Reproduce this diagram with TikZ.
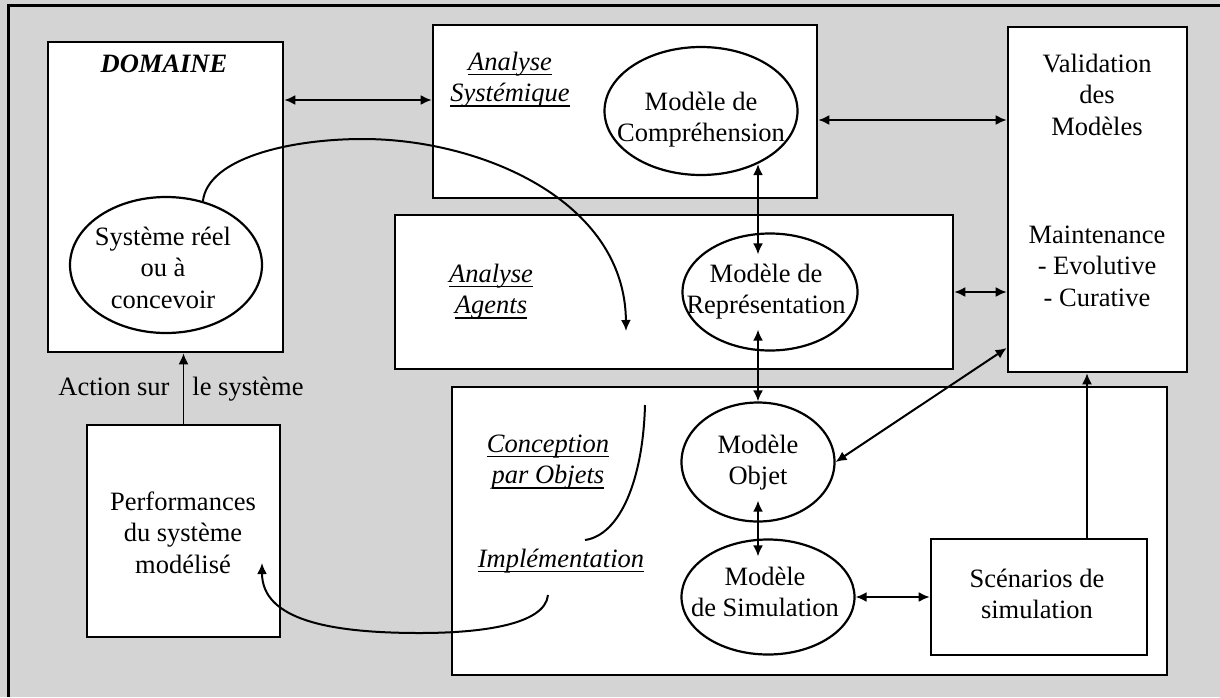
\documentclass[tikz,border=0pt]{standalone}
\usepackage{fontspec}
\setmainfont{Liberation Serif}
\usetikzlibrary{arrows.meta,calc,shapes.geometric}
\newcommand\uln[1]{\leavevmode\setbox0=\hbox{#1}\rlap{\rule[-5pt]{\wd0}{1.5pt}}\box0}
\begin{document}
\begin{tikzpicture}[x=1pt,y=-1pt,
  box/.style={draw,line width=2.6pt,fill=white,inner sep=0pt},
  ell/.style={draw,ellipse,line width=2.2pt,fill=white,inner sep=0pt},
  txt/.style={font=\fontsize{26.5}{31.5}\selectfont,align=center,inner sep=0pt,anchor=north},
  ital/.style={txt,font=\fontsize{26.5}{31.5}\selectfont\itshape},
  arr/.style={line width=2pt},
  dbl/.style={arr,{Latex[length=11pt,width=10pt]}-{Latex[length=11pt,width=10pt]}},
  one/.style={arr,-{Latex[length=11pt,width=10pt]}},
  thin/.style={line width=1.6pt,-{Latex[length=11pt,width=10pt]}}]
\useasboundingbox (0,0) rectangle (1220,697);
\fill[black!17] (0,0) rectangle (1220,697);
\draw[line width=3pt] (8,697) -- (8,5) -- (1220,5);

% boxes
\node[box,minimum width=235pt,minimum height=310pt] (dom) at (165.5,197) {};
\node[box,minimum width=384pt,minimum height=173pt] (sys) at (625,111.5) {};
\node[box,minimum width=558pt,minimum height=154pt] (agt) at (674,292) {};
\node[box,minimum width=179pt,minimum height=345pt] (val) at (1097.5,199.5) {};
\node[box,minimum width=715pt,minimum height=288pt] (con) at (809.5,531) {};
\node[box,minimum width=193pt,minimum height=212pt] (perf) at (183.5,531) {};
\node[box,minimum width=216pt,minimum height=116pt] (scen) at (1039,597) {};

% ellipses
\node[ell,minimum width=192pt,minimum height=136pt] (sr) at (166,265) {};
\node[ell,minimum width=193pt,minimum height=128pt] (comp) at (701,111) {};
\node[ell,minimum width=175pt,minimum height=117pt] (rep) at (770,292) {};
\node[ell,minimum width=153pt,minimum height=119pt] (obj) at (758,462) {};
\node[ell,minimum width=173pt,minimum height=115pt] (sim) at (768,597) {};

% texts
\node[txt,font=\fontsize{26.5}{31.5}\selectfont\bfseries\itshape] (domT) at (164,50) {\strut DOMAINE};
\node[ital] (sysT) at (510,48) {\strut\uln{Analyse}\\\strut\uln{Systémique}};
\node[txt] (compT) at (701,88) {\strut Modèle de\\\strut Compréhension};
\node[ital] (agtT) at (491,260) {\strut\uln{Analyse}\\\strut\uln{Agents}};
\node[txt] (repT) at (766,260) {\strut Modèle de\\\strut Représentation};
\node[txt] (valT) at (1097,50) {\strut Validation\\\strut des\\\strut Modèles};
\node[txt] (mntT) at (1097,221) {\strut Maintenance\\\strut - Evolutive\\\strut - Curative};
\node[ital] (conT) at (548,430) {\strut\uln{Conception}\\\strut\uln{par Objets}};
\node[ital] (impT) at (561,545) {\strut\uln{Implémentation}};
\node[txt] (objT) at (758,431) {\strut Modèle\\\strut Objet};
\node[txt] (simT) at (765,563) {\strut Modèle\\\strut de Simulation};
\node[txt] (scenT) at (1037,565) {\strut Scénarios de\\\strut simulation};
\node[txt] (perfT) at (183,488) {\strut Performances\\\strut du système\\\strut modélisé};
\node[txt] (srT) at (163,223) {\strut Système réel\\\strut ou à\\\strut concevoir};
\node[txt] (act1) at (114,373) {\strut Action sur};
\node[txt] (act2) at (248,373) {\strut le système};

% helper coordinates
\coordinate (h1) at (0,100);
\coordinate (h2) at (0,120);
\coordinate (h3) at (0,348);
\coordinate (v1) at (1087,0);
\coordinate (c1end) at (626,331);
\coordinate (c2a) at (645,405);
\coordinate (c2b) at (585,540);
\coordinate (c3a) at (548,595);
\coordinate (c3m) at (420,633);
\coordinate (c3end) at (262,563);

% connectors
\draw[dbl] (dom.east |- h1) -- (sys.west |- h1);
\draw[dbl] (sys.east |- h2) -- (val.west |- h2);
\draw[dbl] (agt.east) -- (val.west |- agt.east);
\draw[dbl] ($(obj |- comp.south)+(0,-12)$) -- ($(obj |- rep.north)+(0,22)$);
\draw[dbl] ($(obj |- rep.south)+(0,-22)$) -- (obj.north);
\draw[dbl] ($(obj.south)+(0,-22)$) -- ($(obj |- sim.north)+(0,18)$);
\draw[dbl] (obj.east) -- (val.west |- h3);
\draw[dbl] (sim.east) -- (scen.west);
\draw[thin] (v1 |- scen.north) -- (v1 |- val.south);
\draw[thin] (perf.north) -- (perf.north |- dom.south);

% curves
\draw[one] (sr.60) .. controls (208,158) and (290,139) .. (363,139)
  .. controls (480,139) and (625,200) .. (c1end);
\draw[arr] (c2a) .. controls (643,480) and (620,535) .. (c2b);
\draw[one] (c3a) .. controls (545,625) and (480,633) .. (c3m)
  .. controls (330,633) and (262,620) .. (c3end);
\end{tikzpicture}
\end{document}
